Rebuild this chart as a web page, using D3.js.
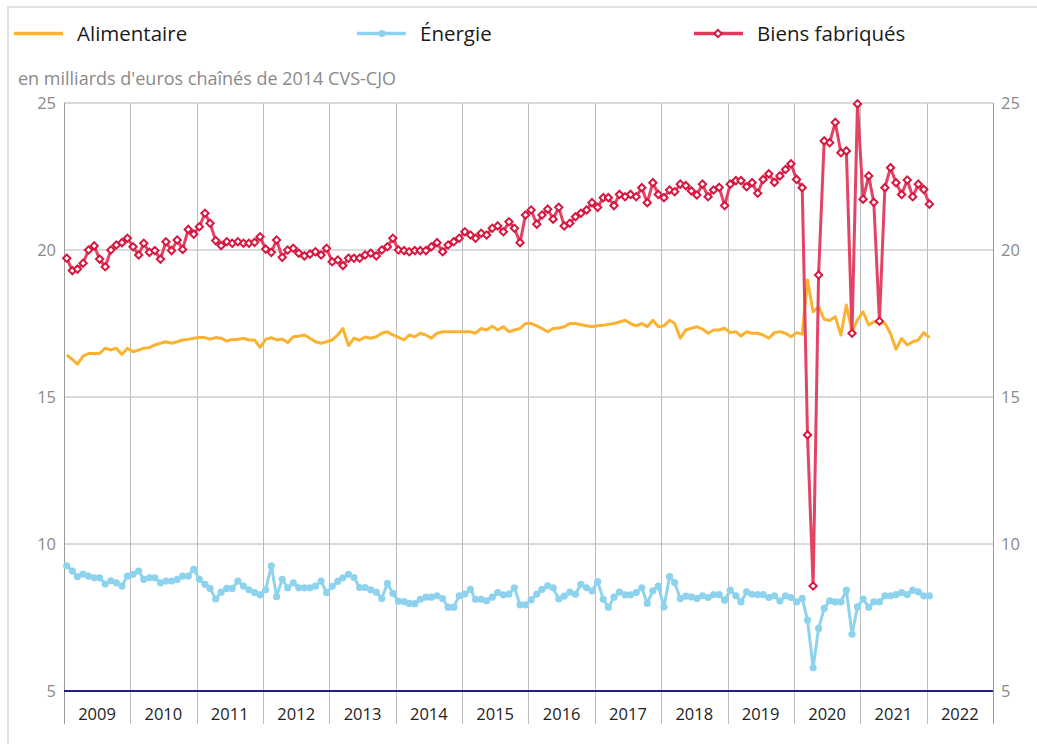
<!DOCTYPE html>
<html>
<head>
<meta charset="utf-8">
<script src="https://cdn.jsdelivr.net/npm/d3@7"></script>
<style>
  body { margin: 0; background: #fff; font-family: 'Open Sans', sans-serif; }
</style>
</head>
<body>
<svg id="chart" width="1037" height="744"></svg>
<script>
// years shown on the x axis (one column each)
const years = [2009, 2010, 2011, 2012, 2013, 2014, 2015, 2016, 2017, 2018, 2019, 2020, 2021, 2022]
const yTicks = [5, 10, 15, 20, 25]
const unitLabel = "en milliards d'euros chaînés de 2014 CVS-CJO"
const seriesNames = ['Alimentaire', 'Énergie', 'Biens fabriqués']

// monthly values, Jan 2009 -> Jan 2022
const alimentaire = [
  16.43, 16.28, 16.12, 16.39, 16.48, 16.48, 16.48, 16.66, 16.60, 16.66, 16.45, 16.66,
  16.54, 16.60, 16.66, 16.68, 16.77, 16.83, 16.88, 16.83, 16.88, 16.94, 16.96, 17.00,
  17.02, 17.02, 16.97, 17.02, 17.00, 16.90, 16.96, 16.96, 17.00, 16.94, 16.94, 16.69,
  16.96, 17.02, 16.94, 16.97, 16.85, 17.05, 17.07, 17.11, 17.00, 16.88, 16.83, 16.88,
  16.94, 17.11, 17.33, 16.75, 17.00, 16.93, 17.04, 17.00, 17.05, 17.17, 17.22, 17.11,
  17.03, 16.94, 17.11, 17.05, 17.17, 17.11, 17.00, 17.17, 17.22, 17.22, 17.22, 17.22,
  17.22, 17.22, 17.17, 17.33, 17.28, 17.41, 17.28, 17.39, 17.22, 17.28, 17.33, 17.50,
  17.50, 17.42, 17.33, 17.22, 17.33, 17.35, 17.39, 17.50, 17.50, 17.46, 17.42, 17.39,
  17.42, 17.44, 17.47, 17.50, 17.55, 17.61, 17.50, 17.42, 17.50, 17.39, 17.61, 17.39,
  17.42, 17.61, 17.50, 17.00, 17.28, 17.34, 17.39, 17.31, 17.17, 17.28, 17.28, 17.34,
  17.19, 17.22, 17.07, 17.22, 17.17, 17.17, 17.11, 17.00, 17.19, 17.22, 17.17, 17.05,
  17.19, 17.14, 18.98, 17.90, 18.07, 17.64, 17.60, 17.73, 17.11, 18.13, 17.22, 17.62,
  17.90, 17.45, 17.56, 17.53, 17.51, 17.15, 16.62, 16.99, 16.77, 16.88, 16.94, 17.19,
  17.02
]

const energie = [
  9.26, 9.08, 8.89, 8.98, 8.91, 8.85, 8.85, 8.64, 8.75, 8.68, 8.57, 8.91,
  8.97, 9.08, 8.80, 8.85, 8.85, 8.68, 8.74, 8.74, 8.80, 8.91, 8.91, 9.14,
  8.80, 8.63, 8.49, 8.13, 8.36, 8.49, 8.49, 8.74, 8.57, 8.44, 8.35, 8.27,
  8.44, 9.26, 8.21, 8.80, 8.51, 8.68, 8.51, 8.51, 8.51, 8.57, 8.74, 8.35,
  8.56, 8.73, 8.85, 8.97, 8.86, 8.52, 8.52, 8.44, 8.36, 8.15, 8.66, 8.32,
  8.05, 8.04, 7.98, 7.97, 8.12, 8.19, 8.19, 8.24, 8.14, 7.85, 7.85, 8.24,
  8.30, 8.46, 8.12, 8.12, 8.07, 8.19, 8.35, 8.27, 8.30, 8.51, 7.93, 7.93,
  8.10, 8.30, 8.46, 8.58, 8.51, 8.13, 8.23, 8.36, 8.29, 8.63, 8.51, 8.40,
  8.72, 8.12, 7.85, 8.19, 8.36, 8.27, 8.27, 8.35, 8.51, 7.98, 8.41, 8.57,
  7.86, 8.89, 8.69, 8.14, 8.23, 8.20, 8.15, 8.24, 8.18, 8.28, 8.28, 8.09,
  8.43, 8.24, 8.03, 8.37, 8.29, 8.28, 8.28, 8.18, 8.24, 8.06, 8.24, 8.18,
  8.03, 8.15, 7.41, 5.79, 7.13, 7.81, 8.07, 8.03, 8.03, 8.43, 6.93, 7.86,
  8.13, 7.85, 8.03, 8.03, 8.24, 8.24, 8.28, 8.35, 8.28, 8.43, 8.37, 8.24,
  8.24
]

const biens = [
  19.72, 19.30, 19.35, 19.55, 20.00, 20.14, 19.69, 19.43, 20.00, 20.17, 20.25, 20.40,
  20.11, 19.83, 20.23, 19.92, 19.98, 19.69, 20.28, 19.98, 20.34, 20.02, 20.70, 20.54,
  20.79, 21.25, 20.91, 20.32, 20.15, 20.28, 20.23, 20.28, 20.23, 20.23, 20.26, 20.45,
  20.03, 19.92, 20.34, 19.75, 20.00, 20.06, 19.89, 19.80, 19.86, 19.94, 19.83, 20.06,
  19.60, 19.66, 19.47, 19.72, 19.72, 19.72, 19.83, 19.89, 19.80, 20.00, 20.11, 20.40,
  20.00, 19.98, 19.94, 19.98, 19.98, 19.98, 20.11, 20.25, 19.94, 20.17, 20.28, 20.40,
  20.62, 20.51, 20.40, 20.57, 20.51, 20.74, 20.82, 20.62, 20.96, 20.74, 20.25, 21.19,
  21.36, 20.88, 21.19, 21.39, 21.05, 21.45, 20.82, 20.91, 21.13, 21.25, 21.36, 21.61,
  21.45, 21.78, 21.78, 21.51, 21.89, 21.81, 21.89, 21.81, 22.12, 21.61, 22.29, 21.89,
  21.78, 22.04, 21.98, 22.24, 22.19, 22.01, 21.87, 22.24, 21.81, 22.04, 22.13, 21.51,
  22.24, 22.36, 22.36, 22.15, 22.29, 21.93, 22.40, 22.59, 22.30, 22.52, 22.74, 22.93,
  22.40, 22.12, 13.71, 8.57, 19.15, 23.71, 23.65, 24.34, 23.31, 23.37, 17.17, 24.97,
  21.73, 22.52, 21.62, 17.58, 22.12, 22.80, 22.29, 21.89, 22.38, 21.81, 22.24, 22.06,
  21.56
]

const colors = { alim: '#fbb231', energie: '#8ed3ee', biens: '#e2395c', biensMark: '#d7173f' }

const svg = d3.select('#chart')

// panel border
svg.append('path')
  .attr('d', 'M8,1037 L8,7 L1040,7')
  .attr('fill', 'none')
  .attr('stroke', '#e2e2e2')
  .attr('stroke-width', 2)

const margin = { top: 103, right: 44, bottom: 53, left: 64 },
  width = 1037 - margin.left - margin.right,
  height = 744 - margin.top - margin.bottom

const g = svg.append('g').attr('transform', `translate(${margin.left}, ${margin.top})`)

const x = d3.scaleTime()
  .domain([new Date(years[0], 0, 1), new Date(years[years.length - 1] + 1, 0, 1)])
  .range([0, width])
const y = d3.scaleLinear().domain([5, 25]).range([height, 0])

// month centre for point i
const dateOf = (i) => new Date(years[0], i, 16)

// horizontal grid
g.selectAll('.hgrid')
  .data(yTicks.filter((d) => d !== 5))
  .join('line')
  .attr('x1', 0)
  .attr('x2', width)
  .attr('y1', (d) => y(d))
  .attr('y2', (d) => y(d))
  .attr('stroke', '#b4b4b4')
  .attr('stroke-width', 1)

// vertical year lines (continue below the axis)
const yearEdges = years.concat([years[years.length - 1] + 1])
g.selectAll('.vgrid')
  .data(yearEdges)
  .join('line')
  .attr('x1', (d) => Math.round(x(new Date(d, 0, 1))) + 0.5)
  .attr('x2', (d) => Math.round(x(new Date(d, 0, 1))) + 0.5)
  .attr('y1', 0)
  .attr('y2', height + 33)
  .attr('stroke', (d, i) => (i === 0 || i === yearEdges.length - 1 ? '#9a9a9a' : '#bdbdbd'))
  .attr('stroke-width', 1)

// base line at 5
g.append('line')
  .attr('x1', 0)
  .attr('x2', width)
  .attr('y1', y(5))
  .attr('y2', y(5))
  .attr('stroke', '#211d8a')
  .attr('stroke-width', 2)

// y labels, both sides
g.selectAll('.ylab-l')
  .data(yTicks)
  .join('text')
  .attr('x', -8)
  .attr('y', (d) => y(d))
  .attr('dy', '0.35em')
  .attr('text-anchor', 'end')
  .attr('font-size', 16.5)
  .attr('fill', '#8a8a8a')
  .text((d) => d)
g.selectAll('.ylab-r')
  .data(yTicks)
  .join('text')
  .attr('x', width + 8)
  .attr('y', (d) => y(d))
  .attr('dy', '0.35em')
  .attr('text-anchor', 'start')
  .attr('font-size', 16.5)
  .attr('fill', '#8a8a8a')
  .text((d) => d)

// year labels
g.selectAll('.xlab')
  .data(years)
  .join('text')
  .attr('x', (d) => x(new Date(d, 6, 2)))
  .attr('y', height + 29)
  .attr('text-anchor', 'middle')
  .attr('font-size', 16.5)
  .attr('fill', '#222')
  .text((d) => d)

// unit label
svg.append('text')
  .attr('x', 18)
  .attr('y', 85)
  .attr('font-size', 18)
  .attr('fill', '#8a8a8a')
  .text(unitLabel)

// lines
const lineGen = d3.line()
  .x((d, i) => x(dateOf(i)))
  .y((d) => y(d))

g.append('path')
  .attr('d', lineGen(alimentaire))
  .attr('fill', 'none')
  .attr('stroke', colors.alim)
  .attr('stroke-width', 3)
  .attr('stroke-linejoin', 'round')

g.append('path')
  .attr('d', lineGen(energie))
  .attr('fill', 'none')
  .attr('stroke', colors.energie)
  .attr('stroke-width', 3)
  .attr('stroke-linejoin', 'round')
g.selectAll('.dot-e')
  .data(energie)
  .join('circle')
  .attr('cx', (d, i) => x(dateOf(i)))
  .attr('cy', (d) => y(d))
  .attr('r', 3.6)
  .attr('fill', colors.energie)

g.append('path')
  .attr('d', lineGen(biens))
  .attr('fill', 'none')
  .attr('stroke', colors.biens)
  .attr('stroke-width', 3)
  .attr('stroke-linejoin', 'round')
  .attr('opacity', 0.95)

const diamond = d3.symbol().type(d3.symbolDiamond2).size(34)
g.selectAll('.dot-b')
  .data(biens)
  .join('path')
  .attr('d', diamond)
  .attr('transform', (d, i) => `translate(${x(dateOf(i))}, ${y(d)})`)
  .attr('fill', '#fff')
  .attr('stroke', colors.biensMark)
  .attr('stroke-width', 2)

// legend
const legend = [
  { name: seriesNames[0], x0: 14, color: colors.alim, mark: null },
  { name: seriesNames[1], x0: 357, color: colors.energie, mark: 'dot' },
  { name: seriesNames[2], x0: 694, color: colors.biens, mark: 'diamond' },
]
const lg = svg.selectAll('.legend').data(legend).join('g')
  .attr('transform', (d) => `translate(${d.x0}, 33.5)`)
lg.append('line')
  .attr('x1', 0)
  .attr('x2', 49)
  .attr('stroke', (d) => d.color)
  .attr('stroke-width', 3.5)
lg.filter((d) => d.mark === 'dot')
  .append('circle')
  .attr('cx', 25)
  .attr('r', 3.6)
  .attr('fill', colors.energie)
lg.filter((d) => d.mark === 'diamond')
  .append('path')
  .attr('d', diamond)
  .attr('transform', 'translate(24, 0)')
  .attr('fill', '#fff')
  .attr('stroke', colors.biensMark)
  .attr('stroke-width', 2)
lg.append('text')
  .attr('x', 63)
  .attr('dy', '0.35em')
  .attr('font-size', 20.5)
  .attr('fill', '#1a1a1a')
  .text((d) => d.name)
</script>
</body>
</html>
